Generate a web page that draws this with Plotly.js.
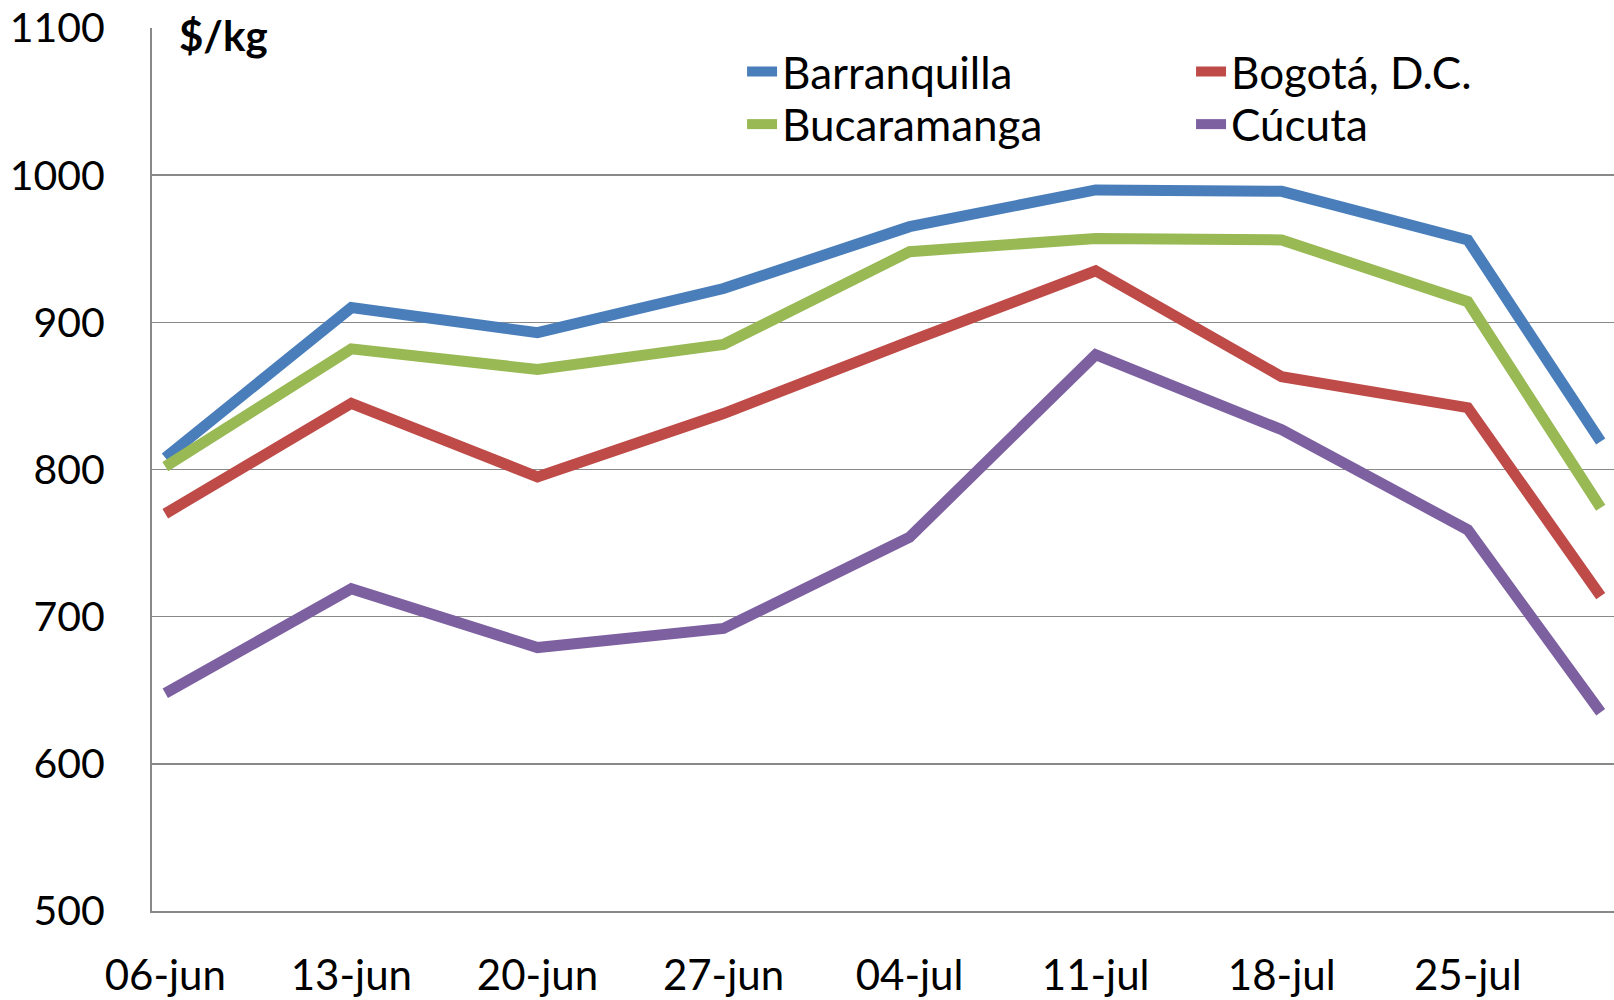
<!DOCTYPE html>
<html>
<head>
<meta charset="utf-8">
<script src="https://cdn.plot.ly/plotly-3.0.1.min.js"></script>
<style>
  html, body { margin: 0; padding: 0; background: #fff; }
  #chart { width: 1614px; height: 1000px; }
</style>
</head>
<body>
<div id="chart"></div>
<script>
// fechas semanales (el ultimo punto es 30-jul)
let fechas = ['2013-06-06', '2013-06-13', '2013-06-20', '2013-06-27', '2013-07-04',
              '2013-07-11', '2013-07-18', '2013-07-25', '2013-07-30'];

let barranquilla = [808, 910, 893, 923, 965, 990, 989, 956, 819];
let bogota       = [770, 845, 795, 838, 887, 935, 863, 842, 714];
let bucaramanga  = [802, 882, 868, 885, 948, 957, 956, 914, 774];
let cucuta       = [648, 719, 679, 692, 754, 878, 827, 759, 635];

let tick_fechas = ['2013-06-06', '2013-06-13', '2013-06-20', '2013-06-27',
                   '2013-07-04', '2013-07-11', '2013-07-18', '2013-07-25'];
let tick_textos = ['06-jun', '13-jun', '20-jun', '27-jun', '04-jul', '11-jul', '18-jul', '25-jul'];

let fuente = 'Lato, "Open Sans", sans-serif';
let gris = '#898989';

function serie(nombre, valores, color, leyenda) {
    return {
        x: fechas,
        y: valores,
        name: nombre,
        type: 'scatter',
        mode: 'lines',
        legend: leyenda,
        line: {color: color, width: 11},
        hoverinfo: 'x+y+name'
    };
}

let data = [
    serie('Barranquilla', barranquilla, '#4A7EBB', 'legend'),
    serie('Bogotá, D.C.', bogota, '#BE4B48', 'legend2'),
    serie('Bucaramanga', bucaramanga, '#98B954', 'legend3'),
    serie('Cúcuta', cucuta, '#7D60A0', 'legend4')
];

// una leyenda por serie para poder ubicarlas en 2 columnas
function leyenda(x, y) {
    return {
        x: x,
        y: y,
        orientation: 'v',
        xanchor: 'left',
        yanchor: 'middle',
        bgcolor: 'rgba(0,0,0,0)',
        font: {family: fuente, size: 44, color: '#000'},
        itemwidth: 30
    };
}

var layout = {
    width: 1614,
    height: 1000,
    margin: {l: 152, r: 0, t: 28, b: 89},
    paper_bgcolor: '#fff',
    plot_bgcolor: '#fff',
    font: {family: fuente, size: 41, color: '#000'},
    showlegend: true,
    legend: leyenda(0.4036, 0.9502),
    legend2: leyenda(0.7107, 0.9502),
    legend3: leyenda(0.4036, 0.8907),
    legend4: leyenda(0.7107, 0.8907),
    xaxis: {
        type: 'date',
        range: ['2013-06-05 12:00', '2013-07-30 12:00'],
        tickvals: tick_fechas,
        ticktext: tick_textos,
        showgrid: false,
        showline: true,
        linecolor: gris,
        linewidth: 2,
        ticks: '',
        ticklabelstandoff: 27,
        tickfont: {family: fuente, size: 42, color: '#000'},
        zeroline: false
    },
    yaxis: {
        range: [500, 1100],
        dtick: 100,
        tick0: 500,
        showgrid: true,
        gridcolor: gris,
        gridwidth: 1.5,
        showline: true,
        linecolor: gris,
        linewidth: 2,
        ticks: '',
        ticklabelstandoff: 37,
        tickfont: {family: fuente, size: 41, color: '#000'},
        zeroline: false
    },
    annotations: [{
        text: '<b>$/kg</b>',
        xref: 'paper', yref: 'paper',
        x: 0.017, y: 0.992,
        xanchor: 'left', yanchor: 'middle',
        showarrow: false,
        font: {family: fuente, size: 42, color: '#000'}
    }]
};

let config = {displayModeBar: false, staticPlot: true};

Plotly.newPlot('chart', data, layout, config);
</script>
</body>
</html>
